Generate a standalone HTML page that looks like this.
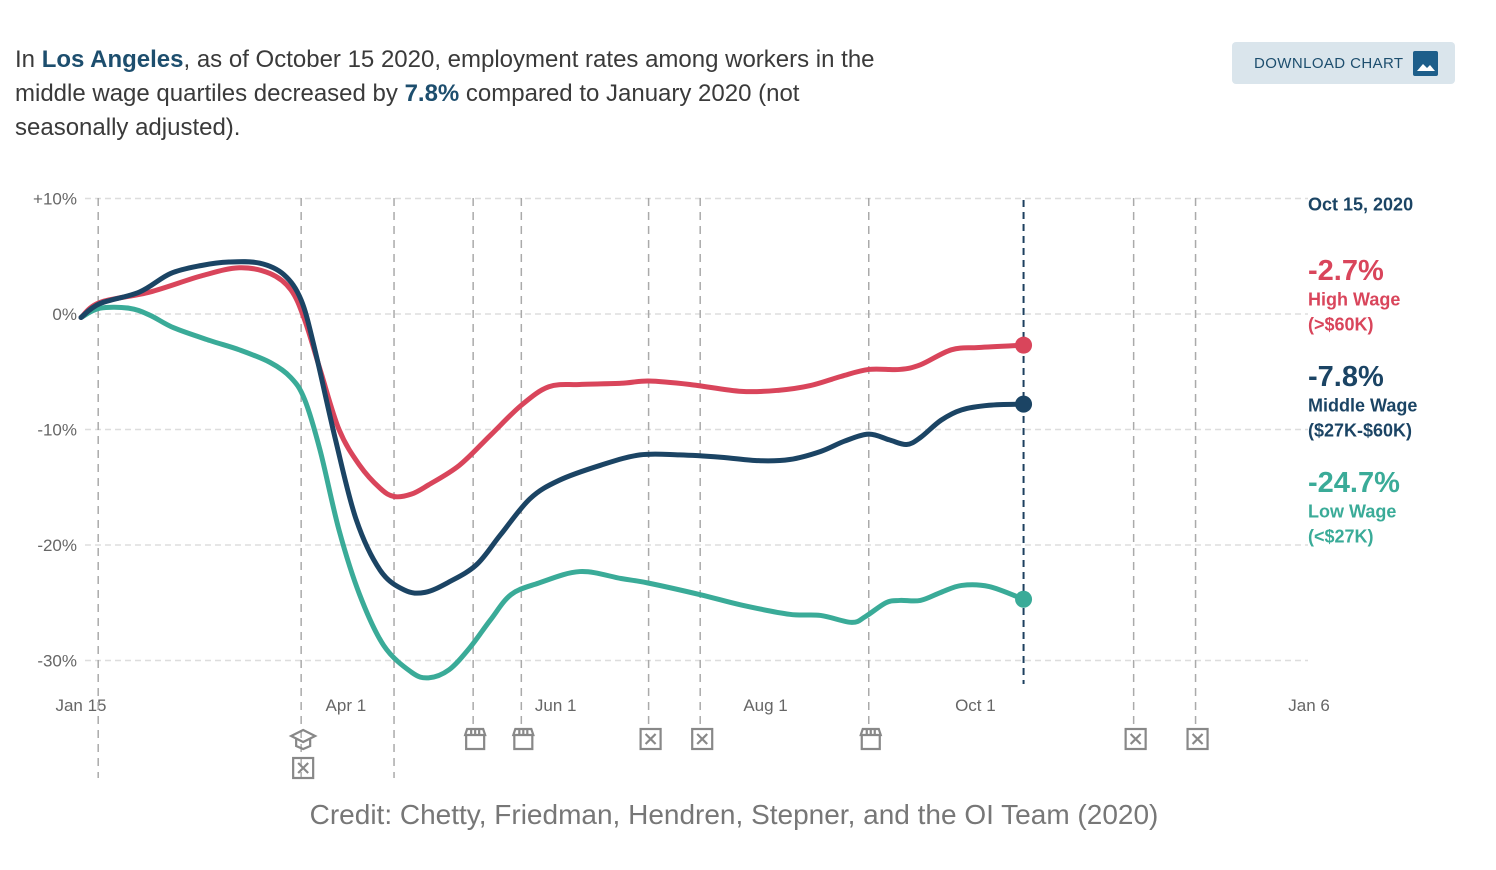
<!DOCTYPE html>
<html><head><meta charset="utf-8"><style>
body{margin:0;width:1496px;height:870px;background:#fff;font-family:"Liberation Sans",sans-serif;overflow:hidden;position:relative}
#title{position:absolute;left:15px;top:43px;width:900px;font-size:24px;line-height:34px;color:#3a3a3a}
#title b{color:#1d4e6e}
#dl{position:absolute;left:1232px;top:42px;width:223px;height:42px;background:#dae5ec;border-radius:4px;font-size:15px;letter-spacing:0.4px;color:#1d4e6e;box-sizing:border-box;padding:13px 0 0 22px}
#dl span.ic{position:absolute;left:181px;top:9px;width:25px;height:25px;background:#1d5e8a;border-radius:2px}
#credit{position:absolute;left:0;width:1468px;text-align:center;top:799px;font-size:28px;color:#777}
</style></head><body>
<div id="title">In <b>Los Angeles</b>, as of October 15 2020, employment rates among workers in the middle wage quartiles decreased by <b>7.8%</b> compared to January 2020 (not seasonally adjusted).</div>
<div id="dl">DOWNLOAD CHART<span class="ic"><svg width="25" height="25"><path d="M4 20 L10 13 L14 17 L17 14 L22 20Z" fill="#fff"/></svg></span></div>
<svg id="chart" width="1496" height="870" style="position:absolute;left:0;top:0"></svg>
<div id="credit">Credit: Chetty, Friedman, Hendren, Stepner, and the OI Team (2020)</div>
<script>
const yTicks=[10,0,-10,-20,-30];
const yTickLabels=["+10%","0%","-10%","-20%","-30%"];
const xTickDays=[0,77,138,199,260,357];
const xTickLabels=["Jan 15","Apr 1","Jun 1","Aug 1","Oct 1","Jan 6"];
const eventDays=[5,64,91,114,128,165,180,229,306,324];
const highDays=[0,5.5,20,35,46,55,61,65,69.5,75,81,87,91,96,101,110,119,128,136,145,157,165,177,192,203,212,221,229,238,244,253,261,274];
const highVals=[-0.3,1.0,1.9,3.3,4.0,3.5,2.1,-0.5,-4.8,-10.0,-13.1,-15.1,-15.8,-15.6,-14.8,-13.1,-10.5,-7.9,-6.3,-6.1,-6.0,-5.8,-6.1,-6.7,-6.6,-6.2,-5.4,-4.8,-4.8,-4.4,-3.1,-2.9,-2.7];
const midDays=[0,5.5,17,26,35,43,52,59,64,68,74,80,87,94,100,107,115,122,130.5,139,151,162.5,174,186,197,206,215,222,229,235,240,244,250,256,264,274];
const midVals=[-0.3,0.9,1.9,3.5,4.2,4.5,4.4,3.4,1.2,-3.1,-10.9,-17.8,-22.2,-23.9,-24.1,-23.2,-21.7,-19.1,-16.0,-14.4,-13.1,-12.2,-12.2,-12.4,-12.7,-12.6,-11.9,-11.0,-10.4,-10.9,-11.3,-10.7,-9.2,-8.3,-7.9,-7.8];
const lowDays=[0,5.5,14,20,27,37.5,46,55,61,65,69.5,75,81,88,96,101,107,113,119,125,133,145,157,165,180,192,206,215,224,228,234,238,244,250,256,264,274];
const lowVals=[-0.3,0.5,0.5,-0.1,-1.2,-2.3,-3.1,-4.2,-5.5,-7.4,-11.8,-18.7,-24.3,-28.7,-31.0,-31.5,-30.8,-28.9,-26.5,-24.3,-23.3,-22.3,-22.9,-23.3,-24.3,-25.2,-26.0,-26.1,-26.7,-26.2,-25.0,-24.8,-24.8,-24.1,-23.5,-23.6,-24.7];
const icons=["x","cap","store","store","x","x","store","x","x"];
const iconDays=[64,64,114,128,165,180,229,306,324];
const currentDay=274;
const NS="http://www.w3.org/2000/svg";
const svg=document.getElementById('chart');
const X=d=>81+d*3.44, Y=v=>314-v*11.55;
function el(t,a,p){const e=document.createElementNS(NS,t);for(const k in a)e.setAttribute(k,a[k]);(p||svg).appendChild(e);return e;}
yTicks.forEach((v,i)=>{
 const l=el('line',{x1:85,x2:1308,y1:Y(v),y2:Y(v),stroke:'#ddd','stroke-width':1.5,'stroke-dasharray':'6,4'});
 
 
 const t=el('text',{x:77,y:Y(v)+6,'text-anchor':'end','font-size':17,fill:'#666','font-family':'Liberation Sans'});t.textContent=yTickLabels[i];
 
 
});
xTickDays.forEach((d,i)=>{
 const t=el('text',{x:X(d),y:711,'text-anchor':'middle','font-size':17,fill:'#666','font-family':'Liberation Sans'});t.textContent=xTickLabels[i];
 
 
});
eventDays.forEach(d=>{
 const long=(d<=91);
 const l=el('line',{x1:X(d),x2:X(d),y1:198,y2:long?778:725,stroke:'#aaa','stroke-width':1.5,'stroke-dasharray':'8,6'});
 
 
});
icons.forEach((k,i)=>{
 const cx=X(iconDays[i])+2, cy=(i==0)?768:739;
 const g=el('g',{stroke:'#888','stroke-width':2.2,fill:'none'});
 
 
 if(k=='x'){el('rect',{x:cx-10,y:cy-10,width:20,height:20},g);el('path',{d:`M${cx-5} ${cy-5}L${cx+5} ${cy+5}M${cx+5} ${cy-5}L${cx-5} ${cy+5}`},g);}
 else if(k=='store'){el('path',{d:`M${cx-10} ${cy-4}L${cx-8} ${cy-10}H${cx+8}L${cx+10} ${cy-4}Z M${cx-9} ${cy-3}V${cy+10}H${cx+9}V${cy-3} M${cx-4} ${cy-10}V${cy-4}M${cx} ${cy-10}V${cy-4}M${cx+4} ${cy-10}V${cy-4}`},g);}
 else {el('path',{d:`M${cx-12} ${cy-3}L${cx} ${cy-9}L${cx+12} ${cy-3}L${cx} ${cy+3}Z M${cx-7} ${cy}V${cy+7}L${cx} ${cy+10}L${cx+7} ${cy+7}V${cy}`},g);}
});
const cur=el('line',{x1:X(currentDay),x2:X(currentDay),y1:200,y2:684,stroke:'#1d3f5e','stroke-width':2,'stroke-dasharray':'7,5'});


function path(ds,vs){const p=ds.map((d,i)=>[X(d),Y(vs[i])]);let s=`M${p[0][0]},${p[0][1]}`;
 for(let i=0;i<p.length-1;i++){const a=p[Math.max(0,i-1)],b=p[i],c=p[i+1],d=p[Math.min(p.length-1,i+2)];
 s+=`C${b[0]+(c[0]-a[0])/6},${b[1]+(c[1]-a[1])/6} ${c[0]-(d[0]-b[0])/6},${c[1]-(d[1]-b[1])/6} ${c[0]},${c[1]}`;}return s;}
[[lowDays,lowVals,'#3aab98','low-wage-line'],[highDays,highVals,'#d9455b','high-wage-line'],[midDays,midVals,'#1b4464','middle-wage-line']].forEach(([d,v,c,n])=>{
 const p=el('path',{d:path(d,v),stroke:c,'stroke-width':5,fill:'none','stroke-linejoin':'round','stroke-linecap':'round'});
 
 
 const dot=el('circle',{cx:X(d[d.length-1]),cy:Y(v[v.length-1]),r:8.5,fill:c});
 
 
});
const leg=[["Oct 15, 2020",209,18,'#1b4464'],["-2.7%",275,29,'#d9455b'],["High Wage",304,18,'#d9455b'],["(>$60K)",329,18,'#d9455b'],
["-7.8%",381,29,'#1b4464'],["Middle Wage",410,18,'#1b4464'],["($27K-$60K)",435,18,'#1b4464'],
["-24.7%",487,29,'#3aab98'],["Low Wage",516,18,'#3aab98'],["(<$27K)",541,18,'#3aab98']];
leg.forEach(([t,y,s,c])=>{const e=el('text',{x:1308,y:y+s*0.35-5,'font-size':s,'font-weight':'bold',fill:c,'font-family':'Liberation Sans'});e.textContent=t;
 
 });
</script>
</body></html>
